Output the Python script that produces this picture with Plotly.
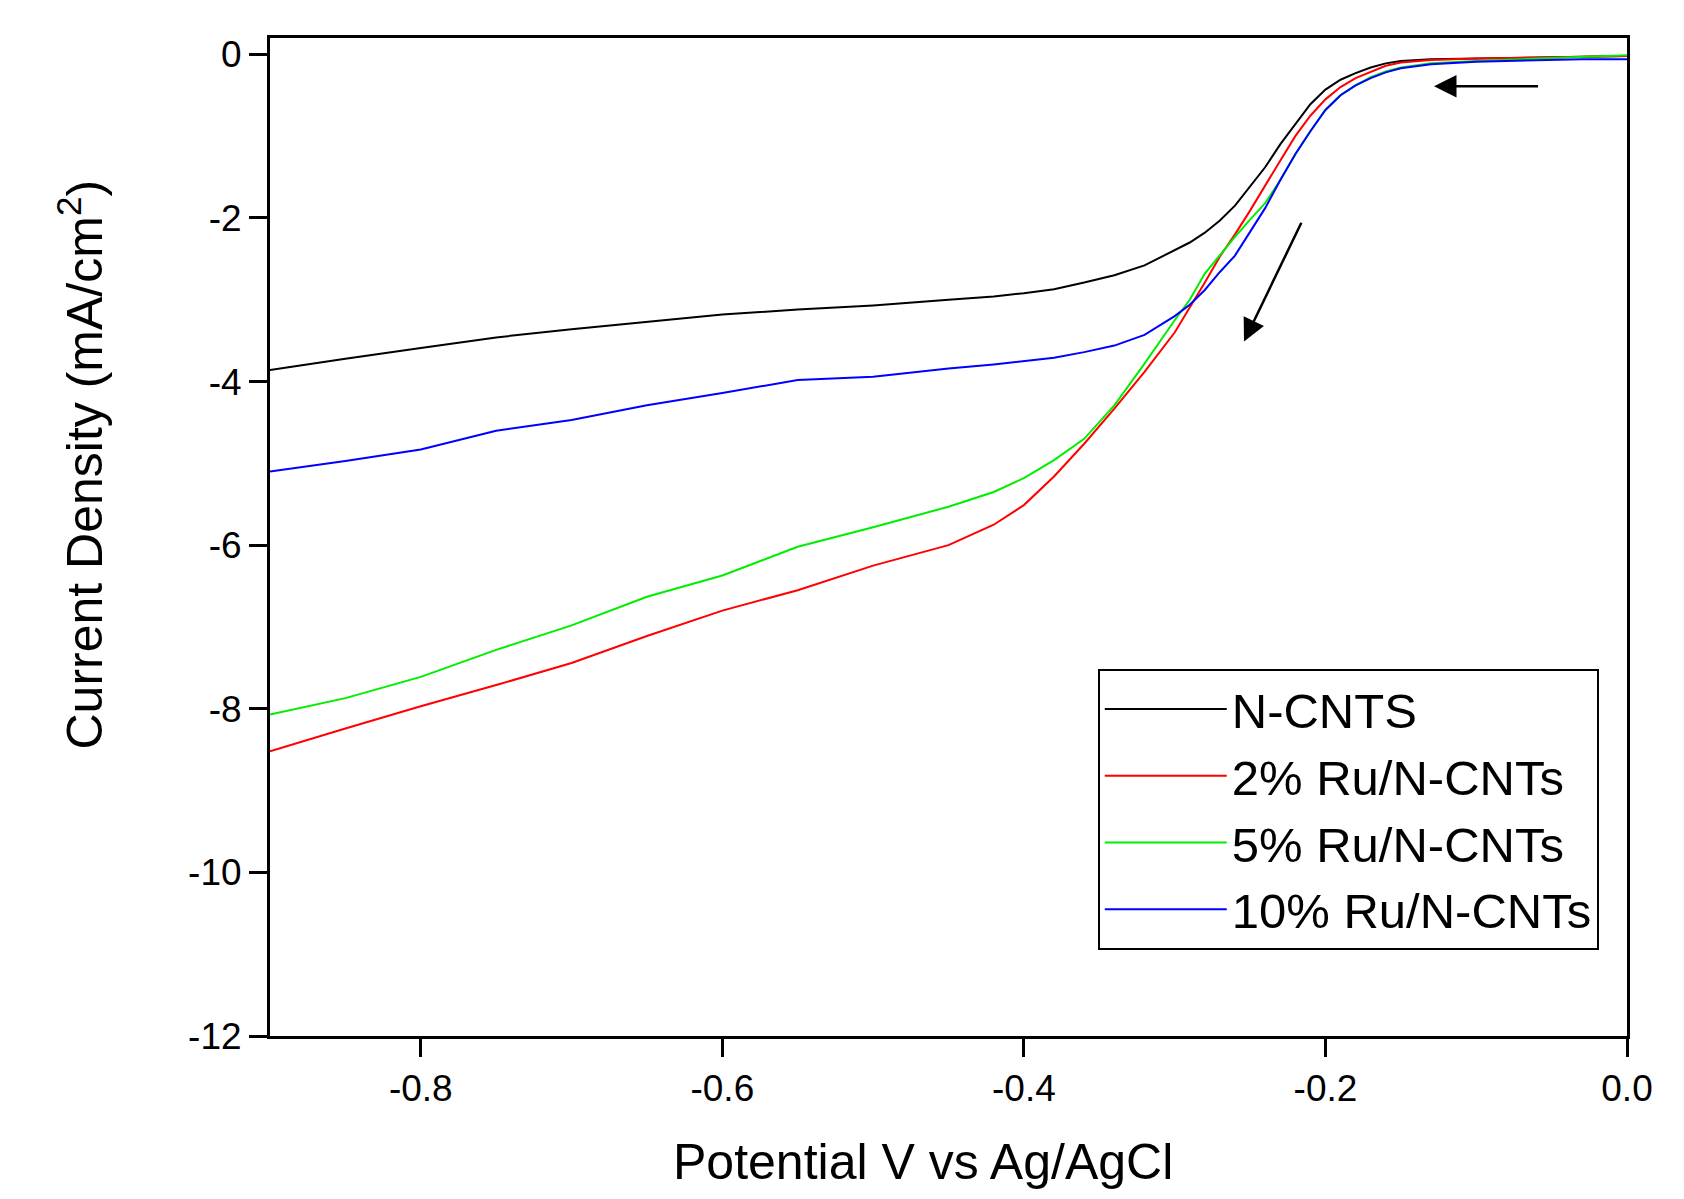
import plotly.graph_objects as go

# Potential (V vs Ag/AgCl)
potential = [-0.90, -0.85, -0.80, -0.75, -0.70, -0.65, -0.60, -0.55, -0.50, -0.45,
             -0.42, -0.40, -0.38, -0.36, -0.34, -0.32, -0.30, -0.29, -0.28, -0.27,
             -0.26, -0.25, -0.24, -0.23, -0.22, -0.21, -0.20, -0.19, -0.18, -0.17,
             -0.16, -0.15, -0.13, -0.10, -0.06, -0.03, 0.00]

n_cnts = [-3.86, -3.72, -3.59, -3.46, -3.36, -3.27, -3.18, -3.12, -3.07, -3.00,
          -2.96, -2.92, -2.87, -2.79, -2.70, -2.58, -2.40, -2.30, -2.18, -2.03,
          -1.85, -1.62, -1.38, -1.10, -0.86, -0.61, -0.43, -0.31, -0.23, -0.16,
          -0.11, -0.08, -0.06, -0.05, -0.04, -0.03, -0.02]

ru2 = [-8.52, -8.24, -7.97, -7.71, -7.44, -7.11, -6.80, -6.55, -6.25, -6.00,
       -5.75, -5.51, -5.16, -4.76, -4.33, -3.88, -3.40, -3.10, -2.79, -2.47,
       -2.20, -1.91, -1.60, -1.30, -1.00, -0.75, -0.55, -0.40, -0.29, -0.21,
       -0.14, -0.10, -0.07, -0.05, -0.04, -0.03, -0.02]

ru5 = [-8.07, -7.87, -7.61, -7.28, -6.98, -6.63, -6.37, -6.02, -5.78, -5.53,
       -5.35, -5.18, -4.96, -4.70, -4.29, -3.78, -3.25, -3.00, -2.68, -2.45,
       -2.23, -2.02, -1.82, -1.54, -1.22, -0.94, -0.68, -0.50, -0.38, -0.28,
       -0.21, -0.16, -0.11, -0.08, -0.05, -0.03, -0.01]

ru10 = [-5.10, -4.97, -4.83, -4.60, -4.47, -4.29, -4.14, -3.98, -3.94, -3.84,
        -3.79, -3.75, -3.71, -3.64, -3.56, -3.43, -3.20, -3.06, -2.88, -2.66,
        -2.46, -2.17, -1.88, -1.54, -1.22, -0.94, -0.68, -0.50, -0.38, -0.29,
        -0.22, -0.17, -0.12, -0.09, -0.07, -0.06, -0.06]

series_names = ["N-CNTS", "2% Ru/N-CNTs", "5% Ru/N-CNTs", "10% Ru/N-CNTs"]
series_values = [n_cnts, ru2, ru5, ru10]
series_colors = ["#000000", "#ff0000", "#00ee00", "#0000ff"]

x_tick_vals = [-0.8, -0.6, -0.4, -0.2, 0.0]
x_tick_text = ["-0.8", "-0.6", "-0.4", "-0.2", "0.0"]
y_tick_vals = [0, -2, -4, -6, -8, -10, -12]
y_tick_text = ["0", "-2", "-4", "-6", "-8", "-10", "-12"]

x_title = "Potential V vs Ag/AgCl"
y_title = "Current Density (mA/cm<sup>2</sup>)"

FONT = "Liberation Sans, Arial, sans-serif"

fig = go.Figure()
for name, vals, col in zip(series_names, series_values, series_colors):
    fig.add_trace(go.Scatter(x=potential, y=vals, mode="lines", name=name,
                             line=dict(color=col, width=2)))

axis_common = dict(showgrid=False, zeroline=False, showline=True, linecolor="black",
                   linewidth=3, mirror=True, ticks="outside", ticklen=18, tickwidth=3,
                   tickcolor="black", tickfont=dict(family=FONT, size=37, color="black"))

fig.update_xaxes(range=[-0.9, 0.0], tickmode="array", tickvals=x_tick_vals,
                 ticktext=x_tick_text, **axis_common)
fig.update_yaxes(range=[-12, 0.2], tickmode="array", tickvals=y_tick_vals,
                 ticktext=y_tick_text, **axis_common)

fig.update_layout(
    width=1676, height=1191,
    margin=dict(l=262, r=57, t=30, b=163),
    paper_bgcolor="white", plot_bgcolor="white",
    font=dict(family=FONT, color="black"),
    showlegend=True,
    legend=dict(x=0.61, y=0.368, xanchor="left", yanchor="top",
                bordercolor="black", borderwidth=2, bgcolor="white",
                font=dict(family=FONT, size=49, color="black"),
                itemwidth=122, tracegroupgap=0),
    annotations=[
        dict(text=x_title, xref="paper", yref="paper", x=0.481, y=-0.126,
             xanchor="center", yanchor="middle", showarrow=False,
             font=dict(family=FONT, size=50, color="black")),
        dict(text=y_title, xref="paper", yref="paper", x=-0.139, y=0.573,
             xanchor="center", yanchor="middle", showarrow=False, textangle=-90,
             font=dict(family=FONT, size=50, color="black")),
        dict(x=-0.128, y=-0.39, ax=-0.058, ay=-0.39, xref="x", yref="y",
             axref="x", ayref="y", showarrow=True, arrowhead=2, arrowsize=1.8,
             arrowwidth=2.5, arrowcolor="black", text=""),
        dict(x=-0.254, y=-3.51, ax=-0.2155, ay=-2.04, xref="x", yref="y",
             axref="x", ayref="y", showarrow=True, arrowhead=2, arrowsize=1.8,
             arrowwidth=2.5, arrowcolor="black", text=""),
    ],
)

fig.write_html("out.html")
